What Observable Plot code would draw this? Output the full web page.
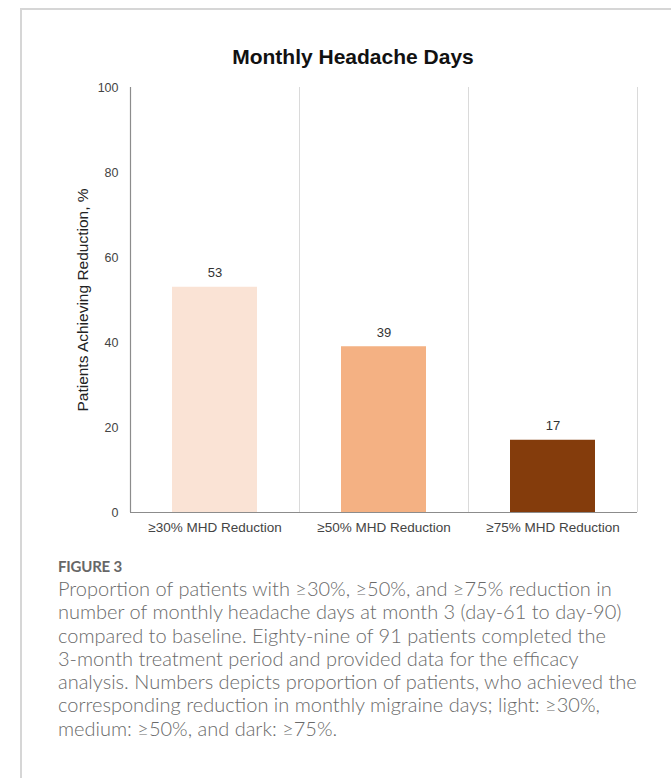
<!DOCTYPE html>
<html>
<head>
<meta charset="utf-8">
<script src="https://cdn.jsdelivr.net/npm/d3@7"></script>
<script src="https://cdn.jsdelivr.net/npm/@observablehq/plot@0.6"></script>
<style>
  html, body { margin: 0; padding: 0; background: #fff; }
  body { width: 671px; height: 778px; position: relative; overflow: hidden; }
  .card { position: absolute; left: 20px; top: 8px; width: 700px; height: 800px;
          border-left: 2px solid #d6d6d6; border-top: 2px solid #d6d6d6; }
  .title { position: absolute; left: 153px; width: 400px; top: 44px; text-align: center;
           font: bold 21px "Liberation Sans", Arial, sans-serif; color: #111; line-height: 26px; }
  #chart { position: absolute; left: 0; top: 70px; }
  .fig { position: absolute; left: 58px; top: 556px; font: 700 15px Lato, sans-serif;
         color: #676767; letter-spacing: -0.2px; line-height: 20px; }
  .cap { position: absolute; left: 58px; top: 577px; font: 300 20px Lato, sans-serif;
         color: #6a6a6a; line-height: 23.3px; white-space: nowrap; }
</style>
</head>
<body>
<div class="card"></div>
<div class="title">Monthly Headache Days</div>
<div id="chart"></div>
<div class="fig">FIGURE 3</div>
<div class="cap" id="cap"></div>
<script>
// Share of patients reaching each level of monthly headache day reduction
const categories = ["≥30% MHD Reduction", "≥50% MHD Reduction", "≥75% MHD Reduction"];
const values = [53, 39, 17];
const colors = ["#FAE3D5", "#F4B183", "#843C0C"];
const yTicks = [0, 20, 40, 60, 80, 100];
const yLabel = "Patients Achieving Reduction, %";
const captionLines = [
  "Proportion of patients with ≥30%, ≥50%, and ≥75% reduction in",
  "number of monthly headache days at month 3 (day-61 to day-90)",
  "compared to baseline. Eighty-nine of 91 patients completed the",
  "3-month treatment period and provided data for the efficacy",
  "analysis. Numbers depicts proportion of patients, who achieved the",
  "corresponding reduction in monthly migraine days; light: ≥30%,",
  "medium: ≥50%, and dark: ≥75%."
];

const data = categories.map((c, i) => ({category: c, value: values[i], color: colors[i]}));

const layout = {
  width: 671, height: 472,
  marginLeft: 130, marginRight: 34, marginTop: 17, marginBottom: 30,
  style: {fontFamily: '"Liberation Sans", Arial, sans-serif', background: "transparent", overflow: "visible"}
};
const xScale = {domain: categories, paddingInner: 0.5, paddingOuter: 0.25};
const yScale = {domain: [0, 100]};

// band step, used to put separators between the categories
const probe = Plot.plot({...layout, x: xScale, y: yScale, marks: [Plot.barY(data, {x: "category", y: "value"})]});
const step = probe.scale("x").step;

const chart = Plot.plot({
  ...layout,
  x: xScale,
  y: yScale,
  marks: [
    // separators at the right edge of each band
    Plot.ruleX(categories, {x: d => d, y1: 0, y2: 100, dx: step / 2, stroke: "#dadada", strokeWidth: 1}),
    Plot.barY(data, {x: "category", y: "value", fill: "color"}),
    // left axis line
    Plot.ruleX([categories[0]], {x: d => d, y1: 0, y2: 100, dx: -step / 2, stroke: "#8c8c8c", strokeWidth: 1.2}),
    Plot.ruleY([0], {stroke: "#8c8c8c", strokeWidth: 1.2}),
    Plot.axisX({label: null, tickSize: 0, tickPadding: 10, fontSize: 13.5, fill: "#444"}),
    Plot.axisY({ticks: yTicks, tickFormat: d => d, label: null, tickSize: 0, tickPadding: 12, fontSize: 12.5, fill: "#444"}),
    Plot.text(data, {x: "category", y: "value", text: d => String(d.value), dy: -14, fontSize: 13, fill: "#333"}),
    Plot.text([yLabel], {frameAnchor: "left", textAnchor: "middle", rotate: -90, dx: -47, fontSize: 15.5, fill: "#222"})
  ]
});
document.getElementById("chart").appendChild(chart);
document.getElementById("cap").innerHTML = captionLines.join("<br>");
</script>
</body>
</html>
